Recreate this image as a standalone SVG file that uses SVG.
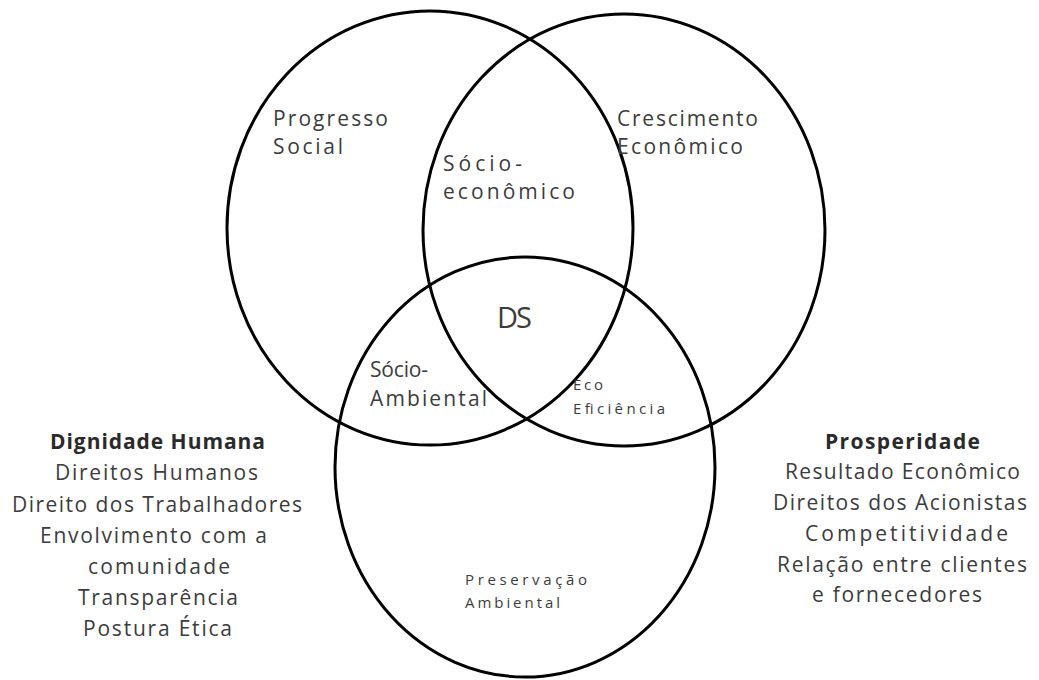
<svg xmlns="http://www.w3.org/2000/svg" width="1039" height="680" viewBox="0 0 1039 680">
<style>
.ring{fill:none;stroke:#000;stroke-width:3}
text{font-family:"Open Sans","DejaVu Sans",sans-serif;fill:#3c3c3c;font-size:21px}
.sm{font-size:15px}
.ds{font-size:29px}
.b{font-weight:bold;fill:#2a2a2a}
</style>
<rect width="1039" height="680" fill="#fff"/>
<g id="connectors"/>
<g id="social">
<ellipse class="ring" cx="430" cy="228" rx="203" ry="217"/>
<text x="273" y="126" textLength="115" lengthAdjust="spacing">Progresso</text>
<text x="273" y="154" textLength="70" lengthAdjust="spacing">Social</text>
</g>
<g id="economico">
<ellipse class="ring" cx="624" cy="230" rx="201" ry="216"/>
<text x="617" y="126" textLength="141" lengthAdjust="spacing">Crescimento</text>
<text x="617" y="154" textLength="126" lengthAdjust="spacing">Econômico</text>
</g>
<g id="ambiental">
<ellipse class="ring" cx="525" cy="467" rx="190" ry="210"/>
<text class="sm" x="465" y="585" textLength="122" lengthAdjust="spacing">Preservação</text>
<text class="sm" x="465" y="608" textLength="95" lengthAdjust="spacing">Ambiental</text>
</g>
<g id="socioeconomico">
<text x="443" y="171" textLength="79" lengthAdjust="spacing">Sócio-</text>
<text x="443" y="199" textLength="132" lengthAdjust="spacing">econômico</text>
</g>
<g id="ds">
<text class="ds" x="497" y="328" textLength="35" lengthAdjust="spacing">DS</text>
</g>
<g id="socioambiental">
<text x="370" y="377" textLength="58" lengthAdjust="spacing">Sócio-</text>
<text x="370" y="406" textLength="117" lengthAdjust="spacing">Ambiental</text>
</g>
<g id="ecoeficiencia">
<text class="sm" x="573" y="390" textLength="30" lengthAdjust="spacing">Eco</text>
<text class="sm" x="573" y="414" textLength="92" lengthAdjust="spacing">Eficiência</text>
</g>
<g id="dignidade">
<text class="b" x="50" y="449" textLength="215" lengthAdjust="spacing">Dignidade Humana</text>
<text x="55" y="480" textLength="203" lengthAdjust="spacing">Direitos Humanos</text>
<text x="12" y="512" textLength="290" lengthAdjust="spacing">Direito dos Trabalhadores</text>
<text x="40" y="543" textLength="227" lengthAdjust="spacing">Envolvimento com a</text>
<text x="88" y="574" textLength="142" lengthAdjust="spacing">comunidade</text>
<text x="78" y="605" textLength="160" lengthAdjust="spacing">Transparência</text>
<text x="83" y="636" textLength="149" lengthAdjust="spacing">Postura Ética</text>
</g>
<g id="prosperidade">
<text class="b" x="825" y="449" textLength="155" lengthAdjust="spacing">Prosperidade</text>
<text x="785" y="479" textLength="235" lengthAdjust="spacing">Resultado Econômico</text>
<text x="773" y="510" textLength="254" lengthAdjust="spacing">Direitos dos Acionistas</text>
<text x="805" y="541" textLength="203" lengthAdjust="spacing">Competitividade</text>
<text x="777" y="572" textLength="250" lengthAdjust="spacing">Relação entre clientes</text>
<text x="812" y="602" textLength="170" lengthAdjust="spacing">e fornecedores</text>
</g>
</svg>
